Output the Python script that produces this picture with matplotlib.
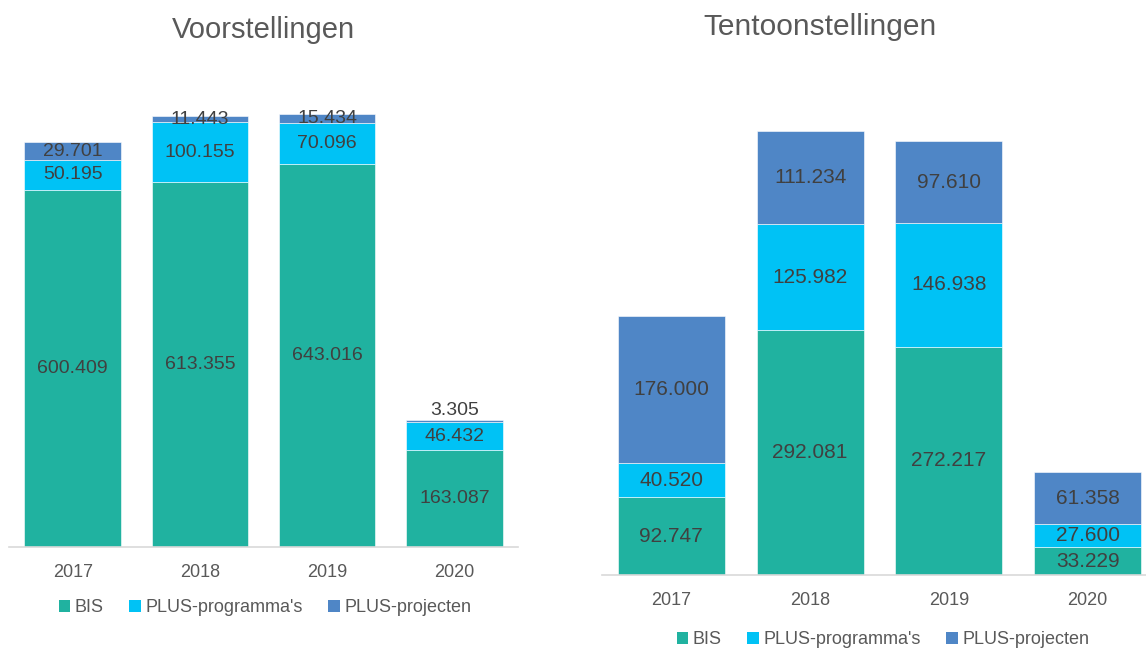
import matplotlib
matplotlib.use("Agg")
import matplotlib.pyplot as plt
from matplotlib.patches import Patch

plt.rcParams['font.family'] = ['Liberation Sans', 'DejaVu Sans']

years = ["2017", "2018", "2019", "2020"]
series = ["BIS", "PLUS-programma's", "PLUS-projecten"]
colors = ["#20B2A0", "#00C2F5", "#4F86C6"]

voor_bis = [600409, 613355, 643016, 163087]
voor_prog = [50195, 100155, 70096, 46432]
voor_proj = [29701, 11443, 15434, 3305]

tent_bis = [92747, 292081, 272217, 33229]
tent_prog = [40520, 125982, 146938, 27600]
tent_proj = [176000, 111234, 97610, 61358]

W, H = 1146, 648
fig = plt.figure(figsize=(W / 100, H / 100), dpi=100)

def fmt(v):
    return f"{v:,}".replace(",", ".")

def draw(ax, data, ymax, width, lsize, small_above=()):
    x = list(range(len(years)))
    bottom = [0] * len(years)
    for vals, col in zip(data, colors):
        ax.bar(x, vals, width=width, bottom=bottom, color=col, edgecolor="white", linewidth=0.4)
        for i, v in enumerate(vals):
            yc = bottom[i] + v / 2
            if (i, col) in small_above:
                ax.annotate(fmt(v), (x[i], bottom[i] + v), xytext=(0, 1), textcoords="offset points",
                            ha="center", va="bottom", fontsize=lsize, color="#404040")
            else:
                ax.text(x[i], yc, fmt(v), ha="center", va="center", fontsize=lsize, color="#404040")
        bottom = [b + v for b, v in zip(bottom, vals)]
    ax.set_xlim(-0.5, len(years) - 0.5)
    ax.set_ylim(0, ymax)
    ax.set_xticks(x)
    ax.set_xticklabels(years, fontsize=13, color="#595959")
    ax.tick_params(axis="x", length=0, pad=12)
    ax.set_yticks([])
    for s in ["top", "right", "left"]:
        ax.spines[s].set_visible(False)
    ax.spines["bottom"].set_color("#D9D9D9")
    ax.spines["bottom"].set_linewidth(1.2)

ax1 = fig.add_axes([9 / W, 101 / H, 509 / W, 476 / H])
draw(ax1, [voor_bis, voor_prog, voor_proj], 800000, 0.76, 14, small_above={(3, colors[2])})
ax2 = fig.add_axes([602 / W, 73 / H, 555 / W, 503.4 / H])
draw(ax2, [tent_bis, tent_prog, tent_proj], 600000, 0.77, 15)

fig.text(263 / W, 1 - 30 / H, "Voorstellingen", ha="center", va="center", fontsize=21, color="#595959")
fig.text(820 / W, 1 - 27 / H, "Tentoonstellingen", ha="center", va="center", fontsize=21.5, color="#595959")

handles = [Patch(facecolor=c, edgecolor="none") for c in colors]
legkw = dict(ncol=3, frameon=False, fontsize=13, handlelength=0.65, handleheight=0.65,
             handletextpad=0.25, columnspacing=1.4, labelcolor="#595959")
fig.legend(handles, series, loc="center", bbox_to_anchor=(265 / W, 1 - 608 / H), **legkw)
fig.legend(handles, series, loc="center", bbox_to_anchor=(883 / W, 1 - 640 / H), **legkw)

fig.savefig("out.png", dpi=100)
